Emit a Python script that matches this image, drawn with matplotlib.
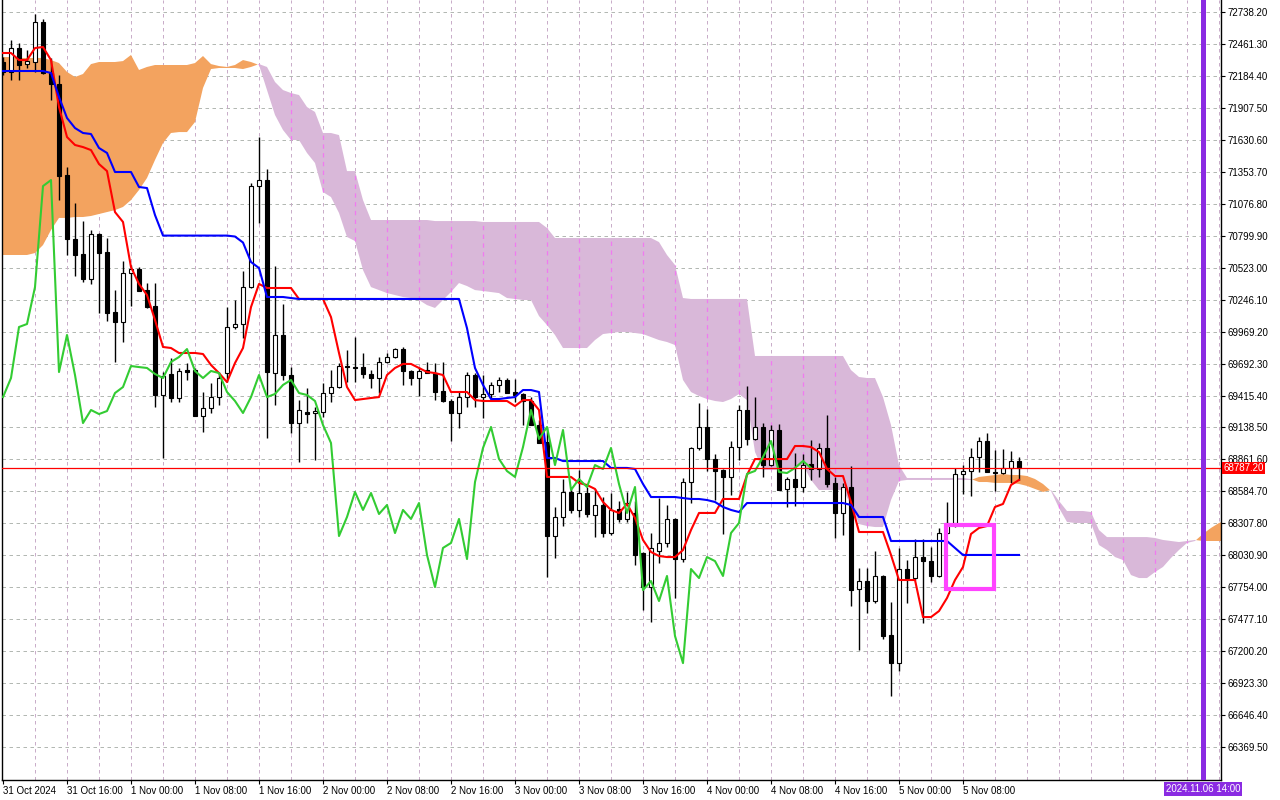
import numpy as np
import matplotlib.pyplot as plt
from matplotlib.patches import Rectangle
from matplotlib.transforms import blended_transform_factory

plt.rcParams['font.family'] = ['Liberation Sans', 'DejaVu Sans']

# H1 candles, 31 Oct 08:00 .. 5 Nov 15:00
opens = [72305, 72219, 72426, 72287, 72305, 72651, 72210, 72114, 71326, 70771,
         70641, 70425, 70814, 70659, 70139, 70052, 70477, 70511, 70329, 70191,
         69420, 69602, 69394, 69636, 69636, 69238, 69307, 69402, 69610, 70009,
         70035, 70355, 71230, 71282, 69610, 69940, 69593, 69177, 69272, 69264,
         69273, 69437, 69489, 69671, 69662, 69662, 69602, 69567, 69706, 69749,
         69818, 69628, 69567, 69636, 69610, 69455, 69368, 69264, 69402, 69593,
         69402, 69429, 69507, 69550, 69446, 69429, 69368, 69160, 69013, 68198,
         68363, 68580, 68424, 68571, 68380, 68467, 68224, 68432, 68346, 68398,
         68051, 67756, 68068, 68138, 68346, 67999, 68666, 68961, 69143, 68866,
         68770, 68710, 68969, 69290, 69039, 69143, 68813, 69117, 68606, 68692,
         68623, 68822, 68779, 68961, 68658, 68398, 68623, 67739, 67808, 67635,
         67852, 67340, 67097, 67912, 67834, 68016, 67981, 67852, 68224, 68311,
         68736, 68762, 68883, 69021, 68753, 68744, 68788, 68848]
highs = [72348, 72496, 72470, 72409, 72721, 72677, 72340, 72193, 71395, 71083,
         70927, 70849, 70820, 70780, 70329, 70580, 70546, 70528, 70390, 70390,
         69619, 69740, 69654, 69697, 69654, 69446, 69524, 69619, 70182, 70243,
         70494, 71256, 71655, 71378, 70537, 70208, 69662, 69376, 69480, 69316,
         69524, 69636, 69697, 69810, 69922, 69783, 69636, 69749, 69783, 69827,
         69836, 69636, 69662, 69706, 69697, 69706, 69385, 69446, 69619, 69610,
         69593, 69532, 69576, 69567, 69558, 69437, 69402, 69203, 69143, 68450,
         68692, 68623, 68770, 68623, 68605, 68536, 68571, 68501, 68580, 68501,
         68060, 68224, 68527, 68467, 68355, 68701, 68969, 69350, 69298, 68909,
         68780, 69021, 69333, 69498, 69402, 69177, 69160, 69169, 68710, 68917,
         68909, 69030, 69004, 69246, 68710, 68658, 68805, 67921, 67921, 68068,
         67860, 67626, 68095, 67990, 68172, 68172, 68103, 68268, 68493, 68788,
         68813, 68961, 69056, 69091, 68943, 68952, 68935, 68883]
lows = [72193, 72149, 72149, 72253, 72219, 72200, 71976, 71109, 70633, 70451,
        70399, 70382, 70130, 70061, 69706, 69879, 70191, 70321, 70170, 69316,
        68874, 69359, 69359, 69550, 69238, 69099, 69264, 69333, 69532, 69995,
        69914, 70347, 70910, 69047, 69333, 69550, 69091, 68840, 69177, 68857,
        69229, 69359, 69481, 69532, 69532, 69567, 69481, 69437, 69700, 69740,
        69507, 69507, 69411, 69610, 69376, 69359, 69021, 69134, 69316, 69316,
        69220, 69394, 69446, 69437, 69359, 69160, 69160, 69004, 67843, 68008,
        68285, 68398, 68363, 68363, 68189, 68189, 68210, 68320, 68320, 67947,
        67557, 67453, 67964, 68103, 67661, 67973, 68484, 68943, 68761, 68510,
        68216, 68554, 68857, 68987, 69030, 68710, 68805, 68597, 68450, 68458,
        68580, 68684, 68710, 68623, 68181, 68207, 67592, 67210, 67531, 67618,
        67305, 66812, 67029, 67618, 67817, 67444, 67800, 67845, 68215, 68276,
        68562, 68545, 68753, 68753, 68588, 68736, 68658, 68684]
closes = [72219, 72426, 72279, 72313, 72651, 72210, 72114, 71317, 70771, 70633,
          70425, 70814, 70650, 70130, 70052, 70477, 70511, 70321, 70182, 69420,
          69584, 69394, 69628, 69619, 69238, 69307, 69402, 69567, 70009, 70035,
          70355, 71230, 71282, 69619, 69940, 69593, 69177, 69290, 69255, 69281,
          69437, 69489, 69671, 69662, 69654, 69602, 69567, 69706, 69749, 69818,
          69628, 69567, 69628, 69610, 69446, 69368, 69264, 69402, 69593, 69402,
          69429, 69507, 69550, 69437, 69420, 69368, 69160, 69004, 68198, 68363,
          68580, 68424, 68571, 68389, 68467, 68224, 68424, 68346, 68484, 68034,
          67756, 68095, 68138, 68346, 67999, 68666, 68961, 69143, 68866, 68761,
          68710, 68969, 69290, 69039, 69143, 68813, 69117, 68597, 68692, 68623,
          68813, 68779, 68961, 68649, 68398, 68623, 67730, 67808, 67635, 67852,
          67332, 67097, 67912, 67834, 68016, 67981, 67852, 68224, 68311, 68736,
          68762, 68883, 69021, 68753, 68744, 68788, 68848, 68787.2]

# Ichimoku lines
tenkan = [72383, 72383, 72322, 72322, 72426, 72435, 72322, 71915, 71655, 71586,
          71568, 71542, 71421, 71360, 71005, 70919, 70528, 70382, 70286, 70070,
          69836, 69827, 69784, 69784, 69784, 69775, 69680, 69610, 69532, 69697,
          69827, 70182, 70382, 70347, 70347, 70347, 70347, 70252, 70252, 70252,
          70252, 70095, 69784, 69489, 69376, 69385, 69394, 69402, 69593, 69654,
          69689, 69689, 69654, 69619, 69610, 69593, 69446, 69446, 69446, 69376,
          69368, 69368, 69368, 69368, 69324, 69376, 69376, 69290, 68710, 68710,
          68710, 68710, 68658, 68640, 68606, 68493, 68424, 68398, 68476, 68355,
          68164, 68060, 68025, 68016, 68016, 68077, 68250, 68398, 68398, 68398,
          68519, 68519, 68519, 68727, 68865, 68865, 68865, 68865, 68865, 68978,
          68978, 68969, 68926, 68779, 68718, 68718, 68493, 68233, 68233, 68233,
          68233, 68034, 67817, 67817, 67817, 67496, 67496, 67548, 67661, 67817,
          67930, 68216, 68268, 68285, 68450, 68476, 68640, 68684]
kijun = [72227, 72227, 72227, 72227, 72227, 72227, 72210, 72002, 71820, 71733,
         71690, 71681, 71560, 71517, 71352, 71352, 71352, 71222, 71213, 70979,
         70801, 70801, 70801, 70801, 70801, 70801, 70801, 70801, 70801, 70793,
         70741, 70572, 70520, 70269, 70269, 70269, 70260, 70252, 70252, 70252,
         70252, 70252, 70252, 70252, 70252, 70252, 70252, 70252, 70252, 70252,
         70252, 70252, 70252, 70252, 70252, 70252, 70252, 70252, 69999, 69654,
         69507, 69385, 69385, 69394, 69402, 69463, 69463, 69446, 68874, 68874,
         68848, 68848, 68848, 68848, 68848, 68848, 68788, 68788, 68788, 68779,
         68649, 68536, 68536, 68536, 68536, 68527, 68519, 68519, 68510, 68493,
         68450, 68424, 68406, 68484, 68484, 68484, 68484, 68484, 68484, 68484,
         68484, 68484, 68484, 68484, 68484, 68484, 68467, 68363, 68363, 68363,
         68363, 68155, 68155, 68155, 68155, 68155, 68155, 68155, 68155, 68095,
         68034, 68034, 68034, 68034, 68034, 68034, 68034, 68034]
span_a = [72348, 72348, 72340, 72340, 72340, 72340, 72322, 72296, 72219, 72175,
          72201, 72287, 72305, 72305, 72305, 72313, 72366, 72236, 72262, 72279,
          72279, 72279, 72279, 72279, 72296, 72357, 72287, 72270, 72262, 72279,
          72322, 72305, 72279, 72062, 71846, 71716, 71629, 71629, 71517, 71430,
          71178, 71135, 70997, 70789, 70754, 70503, 70355, 70329, 70303, 70286,
          70269, 70260, 70243, 70199, 70174, 70243, 70312, 70390, 70364, 70329,
          70321, 70312, 70303, 70260, 70252, 70243, 70243, 70104, 70026, 69940,
          69827, 69827, 69827, 69827, 69896, 69948, 69957, 69966, 69966, 69957,
          69948, 69922, 69896, 69879, 69853, 69550, 69446, 69411, 69385, 69368,
          69359, 69385, 69428, 69376, 68926, 68770, 68770, 68770, 68770, 68788,
          68813, 68684, 68597, 68597, 68597, 68597, 68467, 68302, 68285, 68276,
          68276, 68510, 68675, 68684, 68684, 68684, 68684, 68684, 68684, 68684,
          68684, 68684, 68710, 68718, 68727, 68735, 68727, 68727, 68718, 68692,
          68649, 68588, 68441, 68320, 68311, 68311, 68311, 68120, 68077, 68016,
          67990, 67860, 67834, 67834, 67886, 67930, 68008, 68077, 68138, 68155,
          68216, 68268, 68311, 68337]
span_b = [70633, 70633, 70633, 70633, 70650, 70719, 70849, 70954, 70954, 70962,
          70962, 70971, 70988, 71005, 71022, 71049, 71109, 71196, 71300, 71456,
          71603, 71690, 71698, 71698, 71785, 72080, 72244, 72253, 72253, 72253,
          72244, 72262, 72287, 72262, 72132, 72062, 72036, 72019, 71915, 71872,
          71690, 71690, 71672, 71360, 71360, 71109, 70936, 70936, 70936, 70936,
          70936, 70936, 70936, 70936, 70927, 70927, 70927, 70927, 70927, 70927,
          70919, 70919, 70919, 70919, 70919, 70919, 70919, 70919, 70867, 70780,
          70780, 70780, 70780, 70780, 70780, 70780, 70780, 70780, 70780, 70780,
          70780, 70780, 70745, 70633, 70546, 70260, 70252, 70252, 70252, 70252,
          70252, 70252, 70252, 70252, 69758, 69758, 69758, 69758, 69758, 69758,
          69758, 69758, 69758, 69758, 69758, 69758, 69636, 69576, 69567, 69567,
          69402, 69160, 68813, 68701, 68701, 68701, 68701, 68701, 68701, 68701,
          68701, 68692, 68666, 68666, 68658, 68658, 68658, 68649, 68632, 68606,
          68580, 68597, 68502, 68415, 68415, 68415, 68406, 68250, 68189, 68189,
          68189, 68189, 68189, 68189, 68181, 68164, 68155, 68146, 68155, 68164,
          68155, 68155, 68155, 68155]

price_ticks = [72738.20, 72461.30, 72184.40, 71907.50, 71630.60, 71353.70,
               71076.80, 70799.90, 70523.00, 70246.10, 69969.20, 69692.30,
               69415.40, 69138.50, 68861.60, 68584.70, 68307.80, 68030.90,
               67754.00, 67477.10, 67200.20, 66923.30, 66646.40, 66369.50]
time_labels = ['31 Oct 2024', '31 Oct 16:00', '1 Nov 00:00', '1 Nov 08:00',
               '1 Nov 16:00', '2 Nov 00:00', '2 Nov 08:00', '2 Nov 16:00',
               '3 Nov 00:00', '3 Nov 08:00', '3 Nov 16:00', '4 Nov 00:00',
               '4 Nov 08:00', '4 Nov 16:00', '5 Nov 00:00', '5 Nov 08:00']
label_bars = [0, 8, 16, 24, 32, 40, 48, 56, 64, 72, 80, 88, 96, 104, 112, 120]
last_price = 68787.20
vline_bar = 150
vline_label = '2024.11.06 14:00'
box_bars = (117.9, 123.9)
box_prices = (67743, 68294)
chikou_shift = 26

fig = plt.figure(figsize=(12.8, 8), dpi=100)
ax = fig.add_axes([2 / 1280, 20 / 800, 1219 / 1280, 780 / 800])

# grid
dash = (0, (3.5, 3.5))
grid_bars = list(range(4, 153, 4))
for p in price_ticks:
    ax.axhline(p, color='#b3b8b3', lw=0.72, ls=dash, zorder=0)
for gb in grid_bars:
    ax.axvline(gb, color='#c9adc9', lw=0.72, ls=dash, zorder=0)

# cloud
a = np.array(span_a, dtype=float)
b = np.array(span_b, dtype=float)
xc = np.arange(len(a))
ax.fill_between(xc, a, b, where=a >= b, interpolate=True, color='#f3a35f', lw=0, zorder=1)
ax.fill_between(xc, a, b, where=a < b, interpolate=True, color='#d9b8d9', lw=0, zorder=1)

# vertical grid shows through the bearish cloud in magenta
for gb in grid_bars:
    if gb < len(a) and a[gb] < b[gb]:
        ax.plot([gb, gb], [a[gb], b[gb]], color='#f07af0', lw=0.9, ls=dash, zorder=2)

# candles
o, h, l, c = (np.array(v, dtype=float) for v in (opens, highs, lows, closes))
bars = np.arange(len(c))
ax.vlines(bars, l, h, color='black', lw=1, zorder=3)
body_lo = np.minimum(o, c)
body_h = np.maximum(np.abs(c - o), 9)
ax.bar(bars, body_h, bottom=body_lo, width=0.6,
       color=np.where(c >= o, 'white', 'black'), edgecolor='black',
       linewidth=0.8, zorder=4)

# ichimoku lines
ax.plot(bars, tenkan, color='#ff0000', lw=1.5, zorder=5)
ax.plot(bars, kijun, color='#0000ff', lw=1.5, zorder=5)
ax.plot(bars[chikou_shift:] - chikou_shift, c[chikou_shift:], color='#33cc33', lw=1.5, zorder=5)

# current price, time marker, box
ax.axhline(last_price, color='#ff0000', lw=0.9, zorder=6)
ax.axvline(vline_bar, color='#8a2be2', lw=3.6, zorder=7)
ax.add_patch(Rectangle((box_bars[0], box_prices[0]), box_bars[1] - box_bars[0],
                       box_prices[1] - box_prices[0], fill=False,
                       edgecolor='#ff44ff', lw=3, zorder=8))

# axes
ax.set_xlim(-0.125, 152.25)
ax.set_ylim(66084.3, 72842.2)
ax.yaxis.tick_right()
ax.set_yticks(price_ticks)
ax.set_yticklabels([f'{p:.2f}' for p in price_ticks])
ax.tick_params(axis='y', direction='out', length=3, width=0.8, pad=1.5, labelsize=7)
ax.set_xticks(label_bars)
ax.set_xticklabels(time_labels, ha='left')
ax.tick_params(axis='x', direction='out', length=3, width=0.8, pad=1.5, labelsize=7)
ax.spines['top'].set_visible(False)
for s in ('left', 'right', 'bottom'):
    ax.spines[s].set_color('black')
    ax.spines[s].set_linewidth(1)

tr = blended_transform_factory(ax.transAxes, ax.transData)
ax.text(1.0 + 2 / 1219, last_price, f'{last_price:.2f}', transform=tr,
        color='white', fontsize=7, ha='left', va='center', clip_on=False, zorder=10,
        bbox=dict(boxstyle='square,pad=0.15', fc='#ff0000', ec='none'))
tr2 = blended_transform_factory(ax.transData, ax.transAxes)
ax.text(vline_bar, -9 / 780, vline_label, transform=tr2, color='white', fontsize=7,
        ha='center', va='center', clip_on=False, zorder=10,
        bbox=dict(boxstyle='square,pad=0.2', fc='#8a2be2', ec='none'))

fig.savefig('out.png', dpi=100)
